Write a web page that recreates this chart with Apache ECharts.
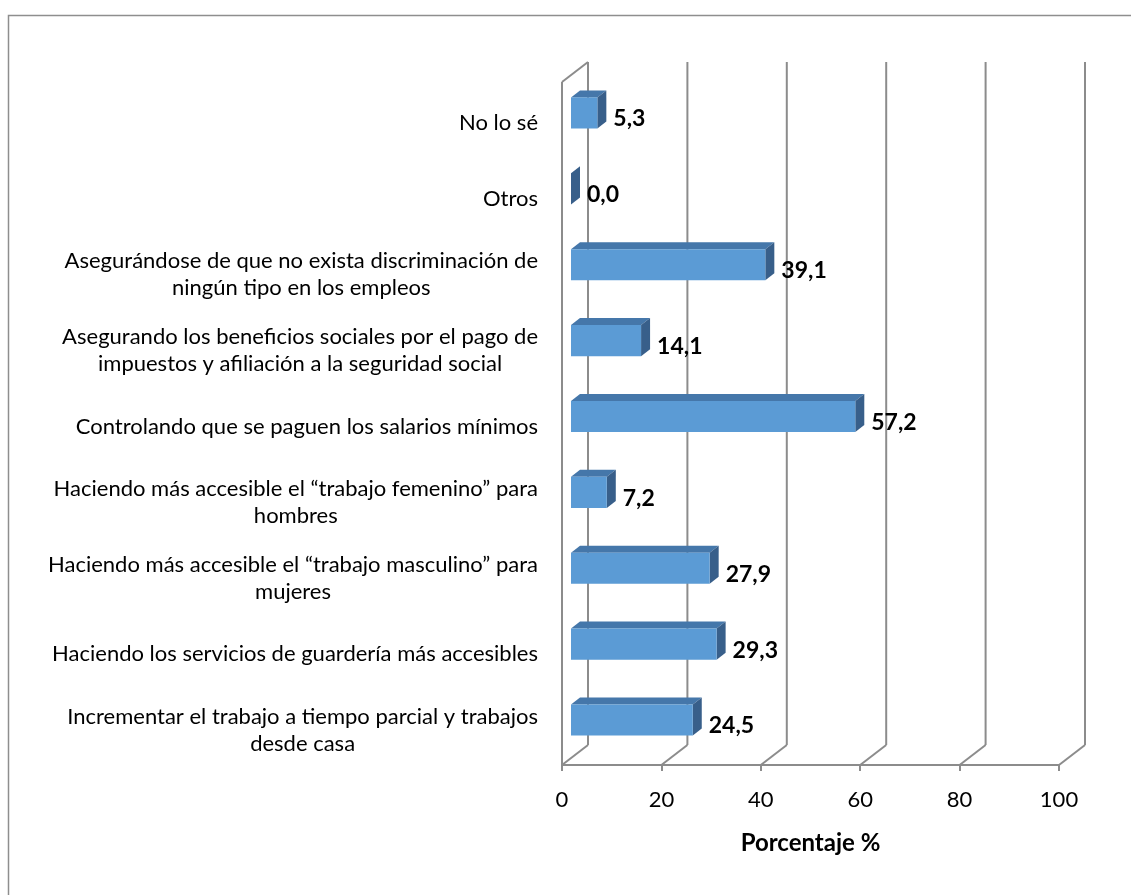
<!DOCTYPE html>
<html><head><meta charset="utf-8">
<script src="https://cdn.jsdelivr.net/npm/echarts@6/dist/echarts.min.js"></script>
<style>html,body{margin:0;padding:0;background:#fff}#c{width:1131px;height:895px}</style>
</head><body><div id="c"></div>
<script>
const categories = [
  'No lo sé',
  'Otros',
  'Asegurándose de que no exista discriminación de\nningún tipo en los empleos',
  'Asegurando los beneficios sociales por el pago de\nimpuestos y afiliación a la seguridad social',
  'Controlando que se paguen los salarios mínimos',
  'Haciendo más accesible el “trabajo femenino” para\nhombres',
  'Haciendo más accesible el “trabajo masculino” para\nmujeres',
  'Haciendo los servicios de guardería más accesibles',
  'Incrementar el trabajo a tiempo parcial y trabajos\ndesde casa'
];
const values = [5.3, 0.0, 39.1, 14.1, 57.2, 7.2, 27.9, 29.3, 24.5];
const xTicks = [0, 20, 40, 60, 80, 100];

const FONT = 'Lato, "Open Sans", sans-serif';
const GRID_COLOR = '#8c8c8c';
const WALL_D = [26, -20];
const BAR_OFF = [9, -7];
const BAR_D = [9, -7];

function renderWall(params, api) {
  const v = api.value(0);
  const cs = params.coordSys;
  const fx = api.coord([v, 0])[0];
  const top = cs.y, bot = cs.y + cs.height;
  const ls = { stroke: GRID_COLOR, lineWidth: 2 };
  const children = [
    { type: 'line', shape: { x1: fx + WALL_D[0], y1: top + WALL_D[1], x2: fx + WALL_D[0], y2: bot + WALL_D[1] }, style: ls },
    { type: 'line', shape: { x1: fx, y1: bot, x2: fx + WALL_D[0], y2: bot + WALL_D[1] }, style: ls }
  ];
  if (v === 0) {
    children.push({ type: 'line', shape: { x1: fx, y1: top, x2: fx, y2: bot }, style: ls });
    children.push({ type: 'line', shape: { x1: fx, y1: top, x2: fx + WALL_D[0], y2: top + WALL_D[1] }, style: ls });
  }
  return { type: 'group', children };
}

function renderBar(params, api) {
  const v = api.value(0), ci = api.value(1);
  const p0 = api.coord([0, ci]), p1 = api.coord([v, ci]);
  const band = api.size([0, 1])[1];
  const h = band * 0.41;
  const xl = p0[0] + BAR_OFF[0], xr = p1[0] + BAR_OFF[0];
  const yt = p0[1] + BAR_OFF[1] - h / 2, yb = yt + h;
  const dx = BAR_D[0], dy = BAR_D[1];
  return {
    type: 'group',
    children: [
      { type: 'polygon', shape: { points: [[xl, yt], [xr, yt], [xr + dx, yt + dy], [xl + dx, yt + dy]] }, style: { fill: '#4577aa' } },
      { type: 'polygon', shape: { points: [[xr, yt], [xr + dx, yt + dy], [xr + dx, yb + dy], [xr, yb]] }, style: { fill: '#385f8a' } },
      { type: 'rect', shape: { x: xl, y: yt, width: xr - xl, height: h }, style: { fill: '#5b9bd5' } },
      { type: 'text', style: { text: v.toFixed(1).replace('.', ','), x: xr + 16, y: (yt + yb) / 2 + 6,
        align: 'left', verticalAlign: 'middle', fill: '#000',
        fontFamily: FONT, fontWeight: 'bold', fontSize: 23 } }
    ]
  };
}

const chart = echarts.init(document.getElementById('c'), null, { renderer: 'canvas' });
chart.setOption({
  animation: false,
  backgroundColor: '#fff',
  graphic: [{
    type: 'rect', shape: { x: 8.5, y: 15.5, width: 1400, height: 1200 },
    style: { fill: 'none', stroke: '#8e8e8e', lineWidth: 1.5 }, silent: true
  }],
  grid: { left: 562, right: 72, top: 82, bottom: 130, containLabel: false },
  xAxis: {
    type: 'value', min: 0, max: 100, interval: 20,
    axisLine: { show: true, lineStyle: { color: GRID_COLOR, width: 2 } },
    axisTick: { show: true, length: 6, lineStyle: { color: GRID_COLOR, width: 2 } },
    splitLine: { show: false },
    axisLabel: { margin: 24, fontFamily: FONT, fontSize: 22, color: '#000' },
    name: 'Porcentaje %', nameLocation: 'middle', nameGap: 66,
    nameTextStyle: { fontFamily: FONT, fontSize: 24, fontWeight: 'bold', color: '#000' }
  },
  yAxis: {
    type: 'category', data: categories, inverse: true,
    axisLine: { show: false }, axisTick: { show: false }, splitLine: { show: false },
    axisLabel: {
      margin: 24, color: '#000',
      formatter: (s) => s.split('\n').map(l => '{c|' + l + '}').join('\n'),
      rich: { c: { align: 'center', fontFamily: FONT, fontSize: 22, lineHeight: 27, color: '#000', padding: [6, 0, 0, 0] } }
    }
  },
  series: [
    { type: 'custom', name: 'walls', renderItem: renderWall, data: xTicks.map(t => [t, 0]), encode: { x: 0, y: 1 }, z: 1, silent: true },
    { type: 'custom', name: 'Porcentaje', renderItem: renderBar, data: values.map((v, i) => [v, i]), encode: { x: 0, y: 1 }, z: 3 }
  ]
});
</script>
</body></html>
